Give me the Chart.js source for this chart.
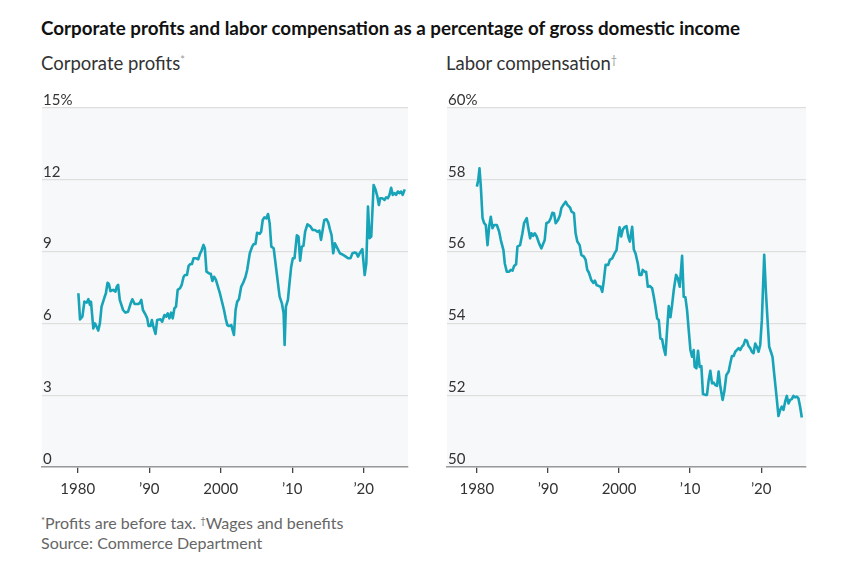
<!DOCTYPE html>
<html>
<head>
<meta charset="utf-8">
<script src="https://cdn.jsdelivr.net/npm/chart.js@4"></script>
<style>
  body { margin: 0; background: #fff; font-family: Lato, "Noto Sans", sans-serif; }
  #page { position: relative; width: 847px; height: 567px; overflow: hidden; }
  .title { position: absolute; left: 41px; top: 17px; font-size: 18.8px; font-weight: 700; color: #111; line-height: 22px; white-space: nowrap; }
  .sub { position: absolute; top: 52px; font-size: 18.5px; color: #333; line-height: 22px; white-space: nowrap; }
  .sub sup { font-size: 11px; color: #999; vertical-align: 6px; line-height: 0; }
  .note { position: absolute; left: 41px; top: 513px; font-size: 16px; color: #666; line-height: 20px; }
  .note sup { font-size: 9.5px; vertical-align: 5px; line-height: 0; }
  .box { position: absolute; top: 90px; height: 420px; }
</style>
</head>
<body>
<div id="page">
  <div class="title">Corporate profits and labor compensation as a percentage of gross domestic income</div>
  <div class="sub" style="left:41px">Corporate profits<sup>*</sup></div>
  <div class="sub" style="left:446px">Labor compensation<sup>†</sup></div>
  <div class="box" style="left:40px;width:370px"><canvas id="profits"></canvas></div>
  <div class="box" style="left:445px;width:363px"><canvas id="labor"></canvas></div>
  <div class="note"><sup>*</sup>Profits are before tax. <sup>†</sup>Wages and benefits<br>Source: Commerce Department</div>
</div>
<script>
// values (year, percent of GDI)
const profitYears = [
  1980.09, 1980.32, 1980.65, 1980.93, 1981.25, 1981.48, 1981.71, 1981.85, 1982.18, 1982.41,
  1982.64, 1982.87, 1983.10, 1983.33, 1983.70, 1983.94, 1984.17, 1984.35, 1984.58, 1984.95,
  1985.28, 1985.46, 1985.65, 1985.88, 1986.34, 1986.67, 1987.04, 1987.41, 1987.64, 1987.96,
  1988.43, 1988.66, 1988.89, 1989.12, 1989.44, 1989.72, 1989.91, 1990.19, 1990.37, 1990.60,
  1990.88, 1991.11, 1991.57, 1991.81, 1992.13, 1992.36, 1992.59, 1992.82, 1993.06, 1993.29,
  1993.52, 1993.75, 1993.98, 1994.31, 1994.54, 1994.81, 1995.00, 1995.28, 1995.51, 1995.74,
  1995.97, 1996.20, 1996.53, 1996.85, 1997.13, 1997.31, 1997.59, 1997.78, 1998.01, 1998.38,
  1998.61, 1998.84, 1999.07, 1999.31, 1999.54, 1999.91, 2000.23, 2000.46, 2000.69, 2000.93,
  2001.16, 2001.48, 2001.85, 2002.08, 2002.31, 2002.55, 2002.87, 2003.15, 2003.47, 2003.70,
  2004.07, 2004.40, 2004.63, 2004.86, 2005.09, 2005.46, 2005.65, 2005.88, 2006.11, 2006.39,
  2006.62, 2006.85, 2007.08, 2007.41, 2007.87, 2008.24, 2008.56, 2008.80, 2008.94, 2009.12,
  2009.40, 2009.63, 2009.86, 2010.09, 2010.32, 2010.65, 2010.88, 2011.11, 2011.34, 2011.57,
  2011.81, 2012.13, 2012.50, 2012.87, 2013.19, 2013.52, 2013.80, 2014.03, 2014.26, 2014.49,
  2014.81, 2015.05, 2015.28, 2015.51, 2015.74, 2015.97, 2016.20, 2016.44, 2016.67, 2017.13,
  2017.50, 2017.82, 2018.15, 2018.43, 2018.75, 2018.98, 2019.21, 2019.44, 2019.81, 2020.14,
  2020.37, 2020.60, 2020.83, 2021.06, 2021.39, 2021.67, 2021.90, 2022.13, 2022.31, 2022.59,
  2022.92, 2023.15, 2023.38, 2023.61, 2023.84, 2024.07, 2024.31, 2024.54, 2024.77, 2025.00,
  2025.23, 2025.46, 2025.74
];
const profitShare = [
  7.26, 6.17, 6.28, 6.91, 6.87, 7.01, 6.77, 6.91, 5.79, 6.00,
  5.86, 5.70, 6.00, 6.70, 7.05, 7.26, 7.70, 7.65, 7.35, 7.40,
  7.33, 7.54, 7.61, 6.98, 6.56, 6.45, 6.49, 6.84, 7.01, 6.81,
  6.81, 6.84, 6.98, 6.56, 6.39, 6.21, 5.89, 5.89, 6.14, 5.84,
  5.56, 6.14, 6.17, 6.07, 6.35, 6.28, 6.42, 6.21, 6.45, 6.21,
  6.63, 6.70, 7.40, 7.47, 7.61, 7.95, 8.02, 8.02, 8.40, 8.48,
  8.48, 8.72, 8.72, 8.68, 8.93, 9.03, 9.28, 9.14, 8.16, 8.09,
  8.07, 7.77, 7.95, 7.84, 7.61, 7.23, 6.84, 6.56, 6.21, 5.93,
  5.89, 5.93, 5.52, 6.56, 6.91, 7.01, 7.54, 7.70, 7.95, 8.23,
  8.93, 9.21, 9.32, 9.32, 9.79, 9.74, 9.83, 10.32, 10.43, 10.39,
  10.57, 10.18, 9.21, 9.14, 8.02, 7.12, 6.84, 6.42, 5.10, 6.70,
  6.98, 7.70, 8.37, 8.72, 8.72, 9.68, 9.63, 8.62, 9.21, 9.24,
  9.83, 10.14, 10.07, 9.90, 9.90, 9.83, 9.88, 9.49, 9.90, 10.32,
  10.35, 10.21, 9.93, 9.69, 8.93, 9.35, 9.21, 9.07, 8.93, 8.86,
  8.79, 8.72, 8.72, 8.93, 8.96, 8.93, 8.79, 8.93, 9.10, 8.02,
  8.51, 10.88, 9.56, 9.63, 11.78, 11.58, 11.32, 10.95, 11.23, 11.23,
  11.16, 11.27, 11.23, 11.37, 11.67, 11.37, 11.44, 11.37, 11.51, 11.44,
  11.51, 11.37, 11.60
];

const laborYears = [
  1980.00, 1980.19, 1980.37, 1980.56, 1980.80, 1981.03, 1981.26, 1981.50, 1981.73, 1981.96,
  1982.20, 1982.43, 1982.81, 1983.13, 1983.37, 1983.74, 1983.93, 1984.21, 1984.54, 1984.77,
  1985.01, 1985.24, 1985.52, 1985.71, 1986.08, 1986.41, 1986.64, 1987.02, 1987.20, 1987.49,
  1987.67, 1987.91, 1988.14, 1988.42, 1988.75, 1989.08, 1989.36, 1989.54, 1989.78, 1990.15,
  1990.39, 1990.62, 1990.85, 1991.09, 1991.42, 1991.70, 1991.88, 1992.16, 1992.49, 1992.73,
  1993.10, 1993.33, 1993.66, 1993.89, 1994.13, 1994.46, 1994.69, 1995.06, 1995.30, 1995.53,
  1995.77, 1996.09, 1996.37, 1996.61, 1996.84, 1997.17, 1997.40, 1997.64, 1997.87, 1998.11,
  1998.48, 1998.71, 1999.04, 1999.37, 1999.65, 1999.84, 2000.07, 2000.30, 2000.54, 2000.77,
  2001.05, 2001.29, 2001.52, 2001.85, 2002.08, 2002.32, 2002.64, 2002.88, 2003.16, 2003.34,
  2003.58, 2003.81, 2004.05, 2004.33, 2004.66, 2004.89, 2005.12, 2005.36, 2005.59, 2005.82,
  2006.06, 2006.29, 2006.53, 2006.76, 2006.99, 2007.23, 2007.46, 2007.70, 2008.02, 2008.26,
  2008.54, 2008.87, 2009.10, 2009.33, 2009.57, 2009.80, 2010.04, 2010.27, 2010.50, 2010.64,
  2010.88, 2011.11, 2011.34, 2011.58, 2011.81, 2012.14, 2012.37, 2012.61, 2012.84, 2013.08,
  2013.31, 2013.54, 2013.78, 2014.01, 2014.25, 2014.57, 2014.81, 2015.09, 2015.42, 2015.65,
  2015.88, 2016.12, 2016.35, 2016.59, 2016.82, 2017.05, 2017.29, 2017.52, 2017.75, 2017.99,
  2018.22, 2018.46, 2018.69, 2018.92, 2019.16, 2019.39, 2019.63, 2019.86, 2020.09, 2020.42,
  2020.66, 2020.89, 2021.12, 2021.36, 2021.59, 2021.82, 2022.11, 2022.43, 2022.67, 2022.90,
  2023.13, 2023.37, 2023.60, 2023.84, 2024.07, 2024.30, 2024.54, 2024.77, 2025.01, 2025.24,
  2025.47, 2025.71
];
const laborShare = [
  57.81, 57.99, 58.32, 57.81, 56.93, 56.79, 56.74, 56.18, 56.69, 56.97,
  56.65, 56.74, 56.74, 56.56, 56.32, 56.04, 55.67, 55.44, 55.44, 55.49,
  55.47, 55.60, 55.65, 56.14, 56.18, 56.51, 56.79, 56.93, 56.69, 56.37,
  56.51, 56.44, 56.51, 56.42, 56.23, 56.09, 56.23, 56.32, 56.79, 56.83,
  56.93, 57.08, 57.07, 56.79, 56.88, 57.02, 57.21, 57.30, 57.39, 57.30,
  57.23, 57.11, 57.07, 56.51, 56.28, 56.18, 55.91, 55.86, 55.77, 55.49,
  55.41, 55.21, 55.13, 55.19, 55.07, 55.04, 55.02, 54.88, 55.21, 55.63,
  55.63, 55.77, 55.81, 55.95, 56.04, 56.37, 56.68, 56.42, 56.62, 56.68,
  56.71, 56.42, 56.28, 56.69, 56.06, 55.95, 55.67, 55.35, 55.35, 55.49,
  55.44, 55.44, 55.02, 55.04, 54.98, 54.74, 54.47, 54.14, 54.09, 53.58,
  53.56, 53.31, 53.12, 53.82, 54.48, 54.17, 54.51, 54.93, 55.35, 55.26,
  55.02, 55.88, 54.74, 54.73, 54.37, 53.82, 53.26, 53.07, 53.26, 52.79,
  52.75, 53.24, 52.79, 52.81, 52.03, 52.01, 52.01, 52.42, 52.68, 52.33,
  52.35, 52.28, 52.26, 52.66, 52.24, 51.87, 52.10, 52.56, 52.66, 52.89,
  53.09, 53.09, 53.21, 53.26, 53.31, 53.26, 53.35, 53.40, 53.54, 53.52,
  53.37, 53.31, 53.21, 53.17, 53.44, 53.35, 53.21, 53.40, 54.09, 55.91,
  54.88, 54.09, 53.35, 53.21, 53.07, 52.61, 52.05, 51.42, 51.59, 51.68,
  51.59, 51.82, 51.98, 51.77, 51.87, 51.89, 51.98, 51.94, 51.96, 51.91,
  51.68, 51.38
];

const xTickYears = [1980, 1990, 2000, 2010, 2020];
const xTickLabels = ['1980', '\u201990', '2000', '\u201910', '\u201920'];
const profitTicks = [0, 3, 6, 9, 12, 15];
const laborTicks = [50, 52, 54, 56, 58, 60];

const LINE = '#17a3b8';
const TEXT = '#333';
const FONT = 'Lato, "Noto Sans", sans-serif';

const plotBackground = {
  id: 'plotBackground',
  beforeDraw(chart) {
    const { ctx, chartArea: a } = chart;
    ctx.save();
    ctx.fillStyle = '#f7f8f9';
    ctx.fillRect(a.left, a.top, a.right - a.left, a.bottom - a.top);
    ctx.restore();
  }
};

function makeChart(id, years, values, yTicks, xMin, xMax) {
  const points = years.map((x, i) => ({ x: x, y: values[i] }));
  return new Chart(document.getElementById(id), {
    type: 'line',
    data: {
      datasets: [{
        data: points,
        borderColor: LINE,
        borderWidth: 2.6,
        pointRadius: 0,
        tension: 0,
        borderJoinStyle: 'round'
      }]
    },
    options: {
      responsive: true,
      maintainAspectRatio: false,
      animation: false,
      layout: { padding: { top: 18, right: 2, bottom: 5, left: 0 } },
      plugins: { legend: { display: false }, tooltip: { enabled: false } },
      scales: {
        x: {
          type: 'linear',
          min: xMin,
          max: xMax,
          afterBuildTicks: (scale) => { scale.ticks = xTickYears.map(v => ({ value: v })); },
          grid: { drawOnChartArea: false, drawTicks: true, tickLength: 6, color: '#444', lineWidth: 1.3 },
          border: { display: true, color: '#999', width: 1.5 },
          ticks: {
            autoSkip: false,
            maxRotation: 0,
            padding: 7,
            color: TEXT,
            font: { family: FONT, size: 15 },
            callback: (v, i) => xTickLabels[i]
          }
        },
        y: {
          min: yTicks[0],
          max: yTicks[yTicks.length - 1],
          afterBuildTicks: (scale) => { scale.ticks = yTicks.map(v => ({ value: v })); },
          grid: { drawTicks: false, color: '#dedede', lineWidth: 1.2 },
          border: { display: false },
          ticks: {
            mirror: true,
            padding: 1,
            labelOffset: -8,
            color: TEXT,
            font: { family: FONT, size: 15 },
            callback: (v, i, t) => (i === t.length - 1 ? v + '%' : String(v))
          }
        }
      }
    },
    plugins: [plotBackground]
  });
}

makeChart('profits', profitYears, profitShare, profitTicks, 1975.0, 2026.2);
makeChart('labor', laborYears, laborShare, laborTicks, 1975.8, 2026.3);
</script>
</body>
</html>
